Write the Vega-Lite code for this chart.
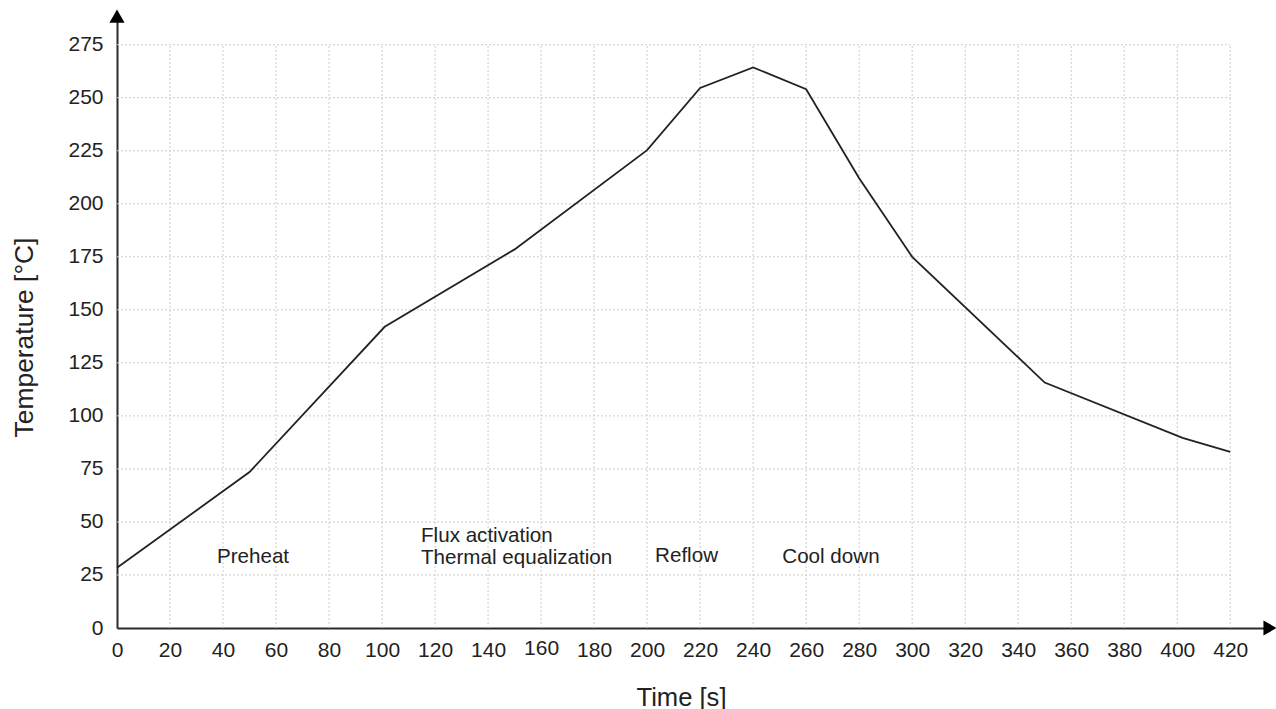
{
  "$schema": "https://vega.github.io/schema/vega-lite/v6.json",
  "width": 1153,
  "height": 613,
  "autosize": "none",
  "padding": {"left": 117, "top": 15, "right": 6, "bottom": 81},
  "background": "white",
  "config": {
    "view": {"stroke": null},
    "font": "Liberation Sans",
    "text": {"font": "Liberation Sans"}
  },
  "datasets": {
    "profile": [
      {"t": 0, "temp": 28.4},
      {"t": 50, "temp": 73.5},
      {"t": 101, "temp": 142},
      {"t": 150, "temp": 178.5},
      {"t": 200, "temp": 225.3},
      {"t": 220, "temp": 254.6},
      {"t": 240, "temp": 264.3},
      {"t": 260, "temp": 254},
      {"t": 280, "temp": 212},
      {"t": 300, "temp": 175},
      {"t": 350, "temp": 115.7},
      {"t": 402, "temp": 89.6},
      {"t": 420, "temp": 83}
    ],
    "vgrid": [
      {"t": 20}, {"t": 40}, {"t": 60}, {"t": 80}, {"t": 100}, {"t": 120},
      {"t": 140}, {"t": 160}, {"t": 180}, {"t": 200}, {"t": 220}, {"t": 240},
      {"t": 260}, {"t": 280}, {"t": 300}, {"t": 320}, {"t": 340}, {"t": 360},
      {"t": 380}, {"t": 400}, {"t": 420}
    ],
    "hgrid": [
      {"temp": 25}, {"temp": 50}, {"temp": 75}, {"temp": 100}, {"temp": 125},
      {"temp": 150}, {"temp": 175}, {"temp": 200}, {"temp": 225}, {"temp": 250},
      {"temp": 275}
    ],
    "labels": [
      {"t": 37.7, "temp": 33.3, "label": "Preheat"},
      {"t": 114.7, "temp": 43.4, "label": "Flux activation"},
      {"t": 114.7, "temp": 33, "label": "Thermal equalization"},
      {"t": 203, "temp": 34, "label": "Reflow"},
      {"t": 251, "temp": 33.5, "label": "Cool down"}
    ],
    "arrows": [
      {"t": 0, "temp": 288.5, "shape": "triangle-up"},
      {"t": 435, "temp": 0, "shape": "triangle-right"}
    ]
  },
  "layer": [
    {
      "data": {"name": "vgrid"},
      "mark": {"type": "rule", "color": "#cccccc", "strokeDash": [2, 2], "strokeWidth": 1},
      "encoding": {
        "x": {
          "field": "t",
          "type": "quantitative",
          "scale": {"domain": [0, 435], "nice": false, "zero": false},
          "axis": {
            "values": [0, 20, 40, 60, 80, 100, 120, 140, 160, 180, 200, 220, 240, 260, 280, 300, 320, 340, 360, 380, 400, 420],
            "grid": false,
            "ticks": false,
            "domainColor": "#2a2a2a",
            "domainWidth": 2,
            "labelFontSize": 21,
            "labelColor": "#222222",
            "labelFont": "Liberation Sans",
            "labelPadding": {"condition": {"test": "datum.value == 160", "value": 9}, "value": 11},
            "labelFlush": false,
            "title": "Time [s]",
            "titleFont": "Liberation Sans",
            "titleFontSize": 25.6,
            "titleFontWeight": "normal",
            "titleColor": "#222222",
            "titleX": 564,
            "titleY": 77,
            "titleBaseline": "alphabetic",
            "titleAnchor": null
          }
        },
        "y": {"datum": 0, "type": "quantitative"},
        "y2": {"datum": 275}
      }
    },
    {
      "data": {"name": "hgrid"},
      "mark": {"type": "rule", "color": "#cccccc", "strokeDash": [2, 2], "strokeWidth": 1},
      "encoding": {
        "y": {
          "field": "temp",
          "type": "quantitative",
          "scale": {"domain": [0, 289], "nice": false},
          "axis": {
            "values": [0, 25, 50, 75, 100, 125, 150, 175, 200, 225, 250, 275],
            "grid": false,
            "ticks": false,
            "domainColor": "#2a2a2a",
            "domainWidth": 2,
            "labelFontSize": 21,
            "labelColor": "#222222",
            "labelFont": "Liberation Sans",
            "labelPadding": 14,
            "labelFlush": false,
            "title": "Temperature [°C]",
            "titleFont": "Liberation Sans",
            "titleFontSize": 26.4,
            "titleFontWeight": "normal",
            "titleColor": "#222222",
            "titleX": -85,
            "titleY": 322,
            "titleAlign": "center",
            "titleBaseline": "alphabetic",
            "titleAnchor": null
          }
        },
        "x": {"datum": 0, "type": "quantitative"},
        "x2": {"datum": 420}
      }
    },
    {
      "data": {"name": "profile"},
      "mark": {"type": "line", "color": "#222222", "strokeWidth": 1.8},
      "encoding": {
        "x": {"field": "t", "type": "quantitative"},
        "y": {"field": "temp", "type": "quantitative"}
      }
    },
    {
      "data": {"name": "labels"},
      "mark": {"type": "text", "align": "left", "baseline": "middle", "fontSize": 20.6, "color": "#222222", "font": "Liberation Sans"},
      "encoding": {
        "x": {"field": "t", "type": "quantitative"},
        "y": {"field": "temp", "type": "quantitative"},
        "text": {"field": "label"}
      }
    },
    {
      "data": {"name": "arrows"},
      "mark": {"type": "point", "filled": true, "color": "#000000", "opacity": 1, "size": 230, "clip": false},
      "encoding": {
        "x": {"field": "t", "type": "quantitative"},
        "y": {"field": "temp", "type": "quantitative"},
        "shape": {"field": "shape", "type": "nominal", "scale": null, "legend": null}
      }
    }
  ]
}
